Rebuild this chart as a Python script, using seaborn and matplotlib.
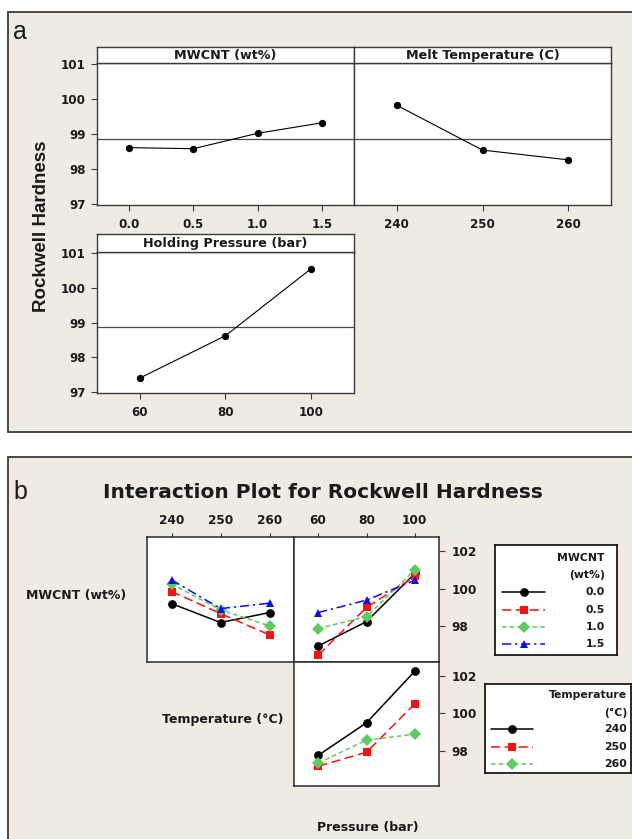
import numpy as np
import pandas as pd
import matplotlib
matplotlib.use("Agg")
import matplotlib.pyplot as plt
import seaborn as sns
from matplotlib.patches import Rectangle
from matplotlib.lines import Line2D

# ---------------- data ----------------
mwcnt_levels = [0.0, 0.5, 1.0, 1.5]
mwcnt_means = [98.61, 98.58, 99.02, 99.32]
temp_levels = [240, 250, 260]
temp_means = [99.82, 98.54, 98.26]
pressure_levels = [60, 80, 100]
pressure_means = [97.40, 98.62, 100.55]
grand_mean = 98.87

mwcnt_labels = ["0.0", "0.5", "1.0", "1.5"]
temp_labels = ["240", "250", "260"]

# MWCNT x Temperature (rows: MWCNT level, cols: temperature)
mt_00 = [99.21, 98.20, 98.73]
mt_05 = [99.85, 98.68, 97.54]
mt_10 = [100.25, 98.88, 98.02]
mt_15 = [100.47, 98.94, 99.23]
# MWCNT x Pressure
mp_00 = [96.95, 98.25, 100.81]
mp_05 = [96.47, 99.00, 100.65]
mp_10 = [97.88, 98.52, 101.00]
mp_15 = [98.73, 99.39, 100.45]
# Temperature x Pressure
tp_240 = [97.74, 99.49, 102.26]
tp_250 = [97.16, 97.91, 100.51]
tp_260 = [97.33, 98.56, 98.88]

# ---------------- style ----------------
sns.set_theme(style="white")
plt.rcParams['font.family'] = ['DejaVu Sans']

W, H = 632, 839
fig = plt.figure(figsize=(W / 100, H / 100), dpi=100)
fig.patch.set_facecolor('white')

BEIGE = '#efebe3'
EDGE = '#3a3a3a'
TXT = '#1a1a1a'


def rect(x0, y0, x1, y1):
    return [x0 / W, 1 - y1 / H, (x1 - x0) / W, (y1 - y0) / H]


def fpt(x, y):
    return (x / W, 1 - y / H)


# panel backgrounds
for (x0, y0, x1, y1) in [(8, 12, 645, 432), (8, 457, 645, 850)]:
    fig.add_artist(Rectangle(fpt(x0, y1), (x1 - x0) / W, (y1 - y0) / H,
                             transform=fig.transFigure, facecolor=BEIGE,
                             edgecolor=EDGE, lw=1.3, zorder=0))


def style_spines(ax, lw=1.0, color=EDGE):
    for s in ax.spines.values():
        s.set_visible(True)
        s.set_color(color)
        s.set_linewidth(lw)


# ---------------- panel a: main effects ----------------
def main_effect(x0, x1, ytop, ystrip, ybot, x, y, xlim, xticks, xlabels, title, show_y):
    ax = fig.add_axes(rect(x0, ystrip, x1, ybot))
    ax.set_facecolor('white')
    ax.axhline(grand_mean, color='#4a4a4a', lw=0.9, zorder=1)
    sns.lineplot(x=x, y=y, ax=ax, color='black', marker='o', markersize=4.5,
                 markeredgecolor='black', lw=0.8, zorder=3)
    ax.set_xlim(*xlim)
    ax.set_ylim(96.97, 101.03)
    ax.set_xticks(xticks)
    ax.set_xticklabels(xlabels)
    ax.set_yticks([97, 98, 99, 100, 101])
    ax.set_xlabel('')
    ax.set_ylabel('')
    ax.tick_params(axis='both', which='both', direction='out', length=4, width=0.8,
                   color=EDGE, labelsize=8.6, labelcolor=TXT, pad=4)
    ax.tick_params(axis='x', pad=5)
    ax.tick_params(axis='x', bottom=True, top=False)
    if show_y:
        ax.tick_params(axis='y', left=True, right=False)
    else:
        ax.tick_params(axis='y', left=False, labelleft=False)
    for lab in ax.get_xticklabels() + ax.get_yticklabels():
        lab.set_fontweight('bold')
    style_spines(ax)
    st = fig.add_axes(rect(x0, ytop, x1, ystrip))
    st.set_facecolor('white')
    st.set_xticks([])
    st.set_yticks([])
    style_spines(st)
    st.text(0.5, 0.45, title, ha='center', va='center', fontsize=9.2,
            fontweight='bold', color=TXT, transform=st.transAxes)
    return ax


main_effect(97, 354, 47, 63, 205, mwcnt_levels, mwcnt_means, (-0.25, 1.75),
            mwcnt_levels, mwcnt_labels, 'MWCNT (wt%)', True)
main_effect(354, 611, 47, 63, 205, temp_levels, temp_means, (235, 265),
            temp_levels, temp_labels, 'Melt Temperature (C)', False)
main_effect(97, 354, 234, 252, 393, pressure_levels, pressure_means, (50, 110),
            pressure_levels, ['60', '80', '100'], 'Holding Pressure (bar)', True)

fig.text(*fpt(42, 226), 'Rockwell Hardness', rotation=90, ha='center', va='center',
         fontsize=13.5, fontweight='bold', family='Liberation Sans', color=TXT)
fig.text(*fpt(20, 32), 'a', ha='center', va='center', fontsize=18,
         family='Liberation Sans', color=TXT)

# ---------------- panel b: interaction ----------------
fig.text(*fpt(20, 492), 'b', ha='center', va='center', fontsize=18,
         family='Liberation Sans', color=TXT)
fig.text(*fpt(323, 492), 'Interaction Plot for Rockwell Hardness', ha='center',
         va='center', fontsize=14.5, fontweight='bold', color=TXT)

COLORS = {'a': 'black', 'b': '#ff1010', 'c': '#5ecb5e', 'd': '#0a0aff'}
DASH = {'a': '', 'b': (6, 3), 'c': (3, 2), 'd': (6, 2.5, 1.5, 2.5)}
MARK = {'a': 'o', 'b': 's', 'c': 'D', 'd': '^'}
YLIM = (96.1, 102.75)


def long_df(xs, series, keys):
    rows = []
    for k, vals in zip(keys, series):
        for xv, yv in zip(xs, vals):
            rows.append({'x': xv, 'y': yv, 'g': k})
    return pd.DataFrame(rows)


def cell(box, xs, series, keys, xlim, top_ticks, right_ticks):
    ax = fig.add_axes(rect(*box))
    ax.set_facecolor('white')
    df = long_df(xs, series, keys)
    sns.lineplot(data=df, x='x', y='y', hue='g', style='g',
                 palette={k: COLORS[k] for k in keys},
                 dashes={k: DASH[k] for k in keys},
                 markers={k: MARK[k] for k in keys},
                 markersize=6.3, markeredgewidth=0, lw=1.1, legend=False,
                 estimator=None, sort=False, ax=ax)
    ax.set_xlim(*xlim)
    ax.set_ylim(*YLIM)
    ax.set_xlabel('')
    ax.set_ylabel('')
    ax.set_xticks(xs)
    ax.set_xticklabels([str(v) for v in xs])
    ax.set_yticks([98, 100, 102])
    ax.tick_params(axis='both', direction='out', length=3, width=0.8, color=EDGE,
                   labelsize=8.7, labelcolor=TXT)
    if top_ticks:
        ax.tick_params(axis='x', top=True, labeltop=True, bottom=False,
                       labelbottom=False, pad=4)
    else:
        ax.tick_params(axis='x', top=False, labeltop=False, bottom=False,
                       labelbottom=False)
    if right_ticks:
        ax.tick_params(axis='y', right=True, labelright=True, left=False,
                       labelleft=False, pad=5, length=4)
    else:
        ax.tick_params(axis='y', right=False, labelright=False, left=False,
                       labelleft=False)
    for lab in ax.get_xticklabels() + ax.get_yticklabels():
        lab.set_fontweight('bold')
    style_spines(ax, lw=1.1, color='#2a2a2a')
    return ax


cell((147, 537, 294, 662), temp_levels, [mt_00, mt_05, mt_10, mt_15],
     ['a', 'b', 'c', 'd'], (235, 265), True, False)
cell((294, 537, 439, 662), pressure_levels, [mp_00, mp_05, mp_10, mp_15],
     ['a', 'b', 'c', 'd'], (50, 110), True, True)
cell((294, 662, 439, 786), pressure_levels, [tp_240, tp_250, tp_260],
     ['a', 'b', 'c'], (50, 110), False, True)

fig.text(*fpt(126, 595), 'MWCNT (wt%)', ha='right', va='center', fontsize=9,
         fontweight='bold', color=TXT)
fig.text(*fpt(284, 719), 'Temperature (°C)', ha='right', va='center', fontsize=9,
         fontweight='bold', color=TXT)
fig.text(*fpt(368, 828), 'Pressure (bar)', ha='center', va='center', fontsize=9,
         fontweight='bold', color=TXT)


def legend_box(box, title_lines, labels, keys, sample_x, label_right, title_ys, entry_ys):
    x0, y0, x1, y1 = box
    lax = fig.add_axes(rect(x0, y0, x1, y1))
    lax.set_facecolor('white')
    lax.set_xlim(x0, x1)
    lax.set_ylim(y1, y0)
    lax.set_xticks([])
    lax.set_yticks([])
    style_spines(lax, lw=1.3, color='#1a1a1a')
    for t, ty in zip(title_lines, title_ys):
        lax.text(label_right, ty, t, ha='right', va='center', fontsize=7.8,
                 fontweight='bold', color=TXT)
    for lab, k, ey in zip(labels, keys, entry_ys):
        sx0, sx1 = sample_x
        ln = Line2D([sx0, sx1], [ey, ey], color=COLORS[k], lw=1.1,
                    dashes=DASH[k] if DASH[k] else (None, None))
        if not DASH[k]:
            ln.set_linestyle('-')
        lax.add_line(ln)
        lax.add_line(Line2D([(sx0 + sx1) / 2], [ey], marker=MARK[k], markersize=6.3,
                            markeredgewidth=0, color=COLORS[k], linestyle='none'))
        lax.text(label_right, ey, lab, ha='right', va='center', fontsize=7.8,
                 fontweight='bold', color=TXT)


legend_box((495, 545, 617, 655), ['MWCNT', '(wt%)'], mwcnt_labels,
           ['a', 'b', 'c', 'd'], (502, 545), 605, [558, 575], [592, 610, 627, 644])
legend_box((485, 684, 631, 773), ['Temperature', '(°C)'], temp_labels,
           ['a', 'b', 'c'], (491, 533), 627, [695, 713], [729, 747, 764])

fig.savefig('out.png', dpi=100, facecolor='white')
